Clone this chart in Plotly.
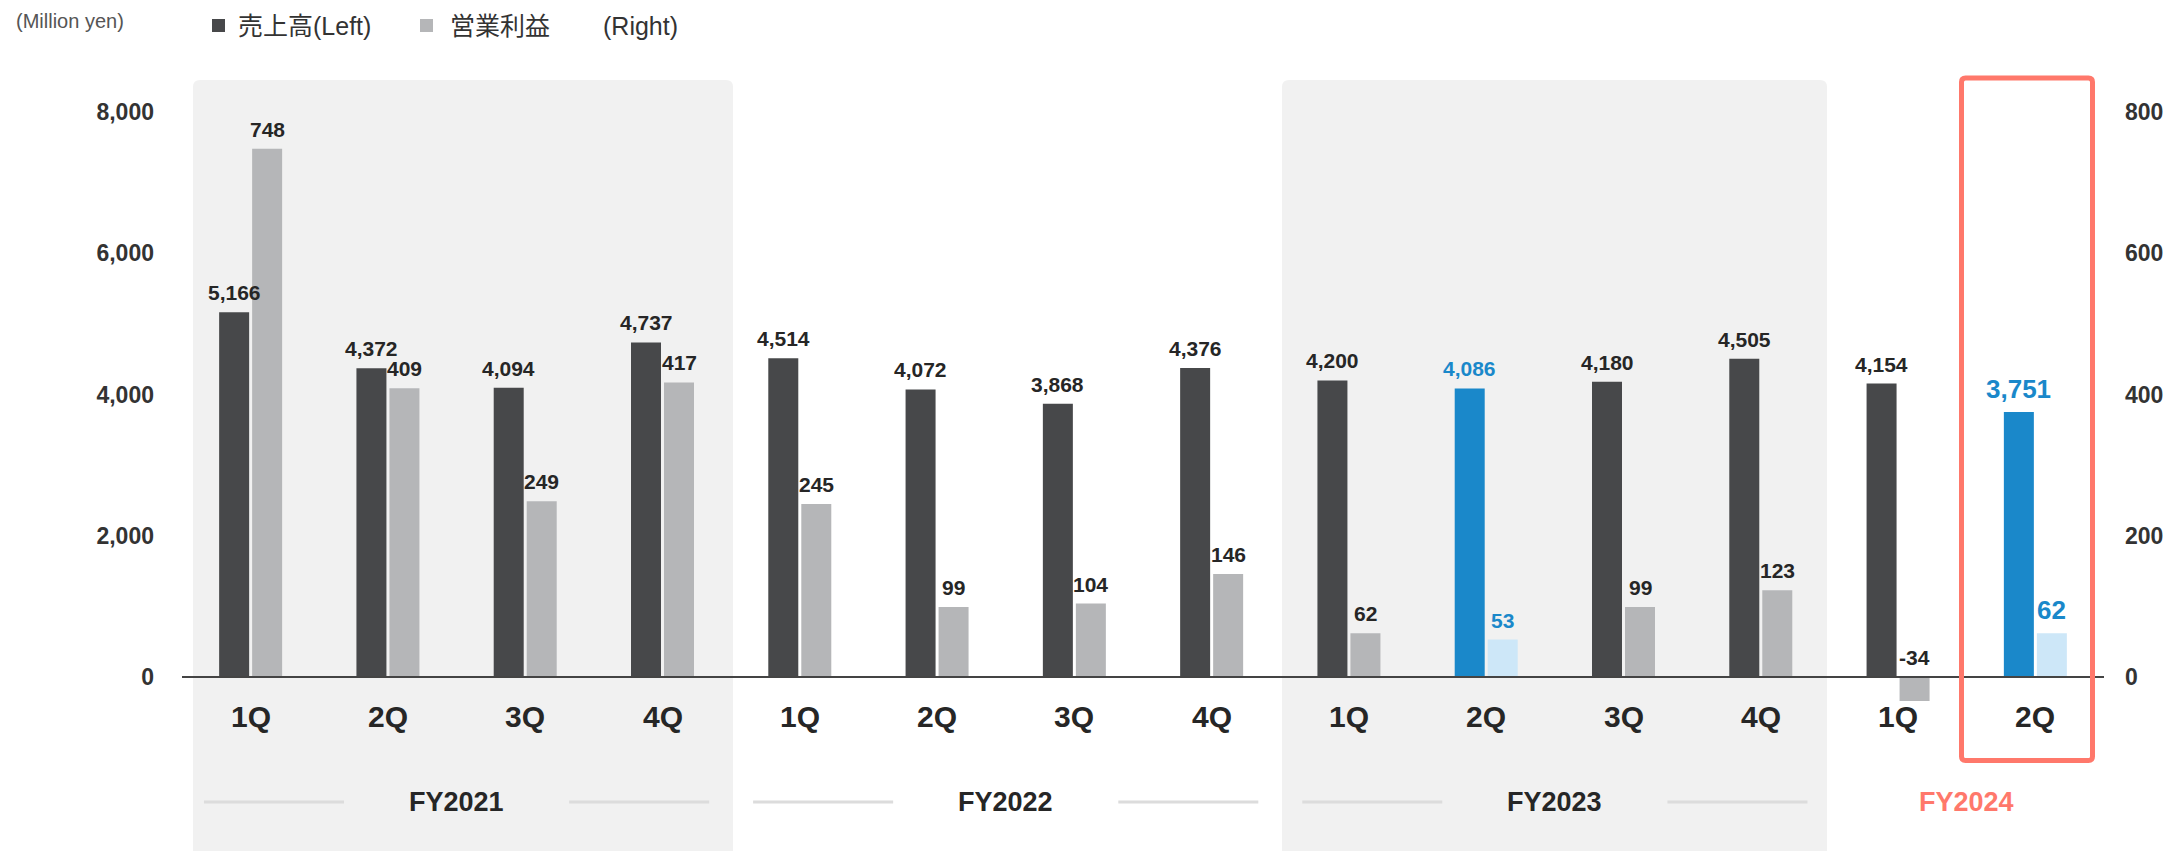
import plotly.graph_objects as go

# ---- data -------------------------------------------------------------
quarters = ["1Q", "2Q", "3Q", "4Q", "1Q", "2Q", "3Q", "4Q",
            "1Q", "2Q", "3Q", "4Q", "1Q", "2Q"]
sales = [5166, 4372, 4094, 4737, 4514, 4072, 3868, 4376,
         4200, 4086, 4180, 4505, 4154, 3751]            # 売上高 (left axis)
op_income = [748, 409, 249, 417, 245, 99, 104, 146,
             62, 53, 99, 123, -34, 62]                   # 営業利益 (right axis)
fiscal_years = ["FY2021", "FY2022", "FY2023", "FY2024"]
fy_first_idx = [0, 4, 8, 12]
fy_last_idx = [3, 7, 11, 13]
highlight_idx = [9, 13]                                  # 2Q bars in blue
big_label_idx = [13]                                     # latest quarter
left_ticks = [0, 2000, 4000, 6000, 8000]
right_ticks = [0, 200, 400, 600, 800]

# ---- style ------------------------------------------------------------
W, H = 2182, 851
DARK = "#47484A"
GREY = "#B5B6B8"
BLUE = "#1A88CA"
LIGHT_BLUE = "#CDE7F8"
PANEL = "#F1F1F1"
SALMON = "#FF786B"
TXT = "#262626"
FONT = "Liberation Sans, Arial, sans-serif"

# pixel geometry of the plotting frame
X_LEFT_PX, X_RIGHT_PX = 182, 2104
ZERO_PX, TOP_TICK_PX = 677, 112
px_per_unit_y = (ZERO_PX - TOP_TICK_PX) / left_ticks[-1]
y_top = ZERO_PX / px_per_unit_y
y_bot = -(H - ZERO_PX) / px_per_unit_y
ratio = right_ticks[-1] / left_ticks[-1]
px_per_cat = (X_RIGHT_PX - X_LEFT_PX) / len(quarters)


def ypx(py):
    """vertical pixel -> left-axis value"""
    return (ZERO_PX - py) / px_per_unit_y


def xpx(px):
    """horizontal pixel -> category coordinate"""
    return (px - X_LEFT_PX) / px_per_cat - 0.5


BAR_W = 30 / px_per_cat
GAP = 3 / px_per_cat
OFF_SALES = -GAP / 2 - BAR_W
OFF_OP = GAP / 2

x = list(range(len(quarters)))
sales_colors = [BLUE if i in highlight_idx else DARK for i in x]
op_colors = [LIGHT_BLUE if i in highlight_idx else GREY for i in x]

fig = go.Figure()
fig.add_trace(go.Bar(
    x=x, y=sales, width=BAR_W, offset=OFF_SALES, yaxis="y",
    marker=dict(color=sales_colors, line=dict(width=0)),
    name="売上高", hoverinfo="y"))
fig.add_trace(go.Bar(
    x=x, y=op_income, width=BAR_W, offset=OFF_OP, yaxis="y2",
    marker=dict(color=op_colors, line=dict(width=0)),
    name="営業利益", hoverinfo="y"))

shapes = []
annotations = []


def rounded_rect_path(x0, x1, y0, y1, r_px, all_corners=False):
    rx = r_px / px_per_cat
    ry = r_px / px_per_unit_y
    p = (f"M {x0},{y0 + (ry if all_corners else 0)} "
         f"L {x0},{y1 - ry} Q {x0},{y1} {x0 + rx},{y1} "
         f"L {x1 - rx},{y1} Q {x1},{y1} {x1},{y1 - ry} ")
    if all_corners:
        p += (f"L {x1},{y0 + ry} Q {x1},{y0} {x1 - rx},{y0} "
              f"L {x0 + rx},{y0} Q {x0},{y0} {x0},{y0 + ry} Z")
    else:
        p += f"L {x1},{y0} Z"
    return p


# shaded year panels (FY2021, FY2023)
for px0, px1 in [(193, 733), (1282, 1827)]:
    shapes.append(dict(
        type="path", xref="x", yref="y", layer="below",
        path=rounded_rect_path(xpx(px0), xpx(px1), y_bot - 200, ypx(80), 7),
        fillcolor=PANEL, line=dict(width=0)))

# zero baseline
shapes.append(dict(type="line", xref="x", yref="y", layer="above",
                   x0=-0.5, x1=len(quarters) - 0.5, y0=0, y1=0,
                   line=dict(color="#444444", width=2)))

# frame around the latest quarter
shapes.append(dict(
    type="path", xref="x", yref="y", layer="above",
    path=rounded_rect_path(xpx(1961.5), xpx(2092.5), ypx(760.5), ypx(78), 4,
                           all_corners=True),
    fillcolor="rgba(0,0,0,0)", line=dict(color=SALMON, width=5)))

# value labels
for i in x:
    big = i in big_label_idx
    col = BLUE if i in highlight_idx else TXT
    size = 26 if big else 21
    annotations.append(dict(
        x=i + OFF_SALES + BAR_W / 2, y=sales[i], xref="x", yref="y",
        text=f"<b>{sales[i]:,}</b>", showarrow=False, yanchor="bottom",
        yshift=6, font=dict(family=FONT, size=size, color=col)))
    v = op_income[i]
    annotations.append(dict(
        x=i + OFF_OP + BAR_W / 2, y=max(v, 0), xref="x", yref="y2",
        text=f"<b>{v:,}</b>", showarrow=False, yanchor="bottom",
        yshift=6, font=dict(family=FONT, size=size, color=col)))

# quarter labels
for i, q in enumerate(quarters):
    annotations.append(dict(
        x=i, y=ypx(716), xref="x", yref="y", text=f"<b>{q}</b>",
        showarrow=False, yanchor="middle",
        font=dict(family=FONT, size=30, color=TXT)))

# fiscal-year labels with side rules
for fy, a, b in zip(fiscal_years, fy_first_idx, fy_last_idx):
    c = (a + b) / 2
    is_latest = fy == fiscal_years[-1]
    annotations.append(dict(
        x=c, y=ypx(802), xref="x", yref="y", text=f"<b>{fy}</b>",
        showarrow=False, yanchor="middle",
        font=dict(family=FONT, size=27, color=SALMON if is_latest else TXT)))
    if not is_latest:
        for s in (-1, 1):
            shapes.append(dict(
                type="line", xref="x", yref="y", layer="above",
                x0=c + s * 0.82, x1=c + s * 1.84, y0=ypx(802), y1=ypx(802),
                line=dict(color="#DCDCDC", width=3)))

# header: unit and legend
annotations.append(dict(
    x=14 / W, y=1 - 21 / H, xref="paper", yref="paper", text="(Million yen)",
    showarrow=False, xanchor="left", yanchor="middle",
    font=dict(family=FONT, size=20, color="#555555")))
for sq_x, color in [(212, DARK), (420, GREY)]:
    shapes.append(dict(type="rect", xref="paper", yref="paper",
                       x0=sq_x / W, x1=(sq_x + 13) / W,
                       y0=1 - 32 / H, y1=1 - 19 / H,
                       fillcolor=color, line=dict(width=0)))
for tx, label in [(236, "売上高(Left)"), (448, "営業利益"), (601, "(Right)")]:
    annotations.append(dict(
        x=tx / W, y=1 - 26 / H, xref="paper", yref="paper", text=label,
        showarrow=False, xanchor="left", yanchor="middle",
        font=dict(family="Liberation Sans, Noto Sans CJK JP, sans-serif",
                  size=25, color="#333333")))

fig.update_layout(
    template="none",
    width=W, height=H,
    margin=dict(l=0, r=0, t=0, b=0),
    paper_bgcolor="white", plot_bgcolor="rgba(0,0,0,0)",
    barmode="overlay", showlegend=False,
    shapes=shapes, annotations=annotations,
    xaxis=dict(domain=[X_LEFT_PX / W, X_RIGHT_PX / W],
               range=[-0.5, len(quarters) - 0.5],
               showgrid=False, zeroline=False, showline=False,
               showticklabels=False, ticks="", automargin=False,
               fixedrange=True),
    yaxis=dict(domain=[0, 1], range=[y_bot, y_top],
               tickvals=left_ticks, ticktext=[f"{v:,}" for v in left_ticks],
               showgrid=False, zeroline=False, showline=False, ticks="",
               ticklabelstandoff=27, automargin=False,
               tickfont=dict(family=FONT, size=23, color="#333333",
                             weight="bold")),
    yaxis2=dict(overlaying="y", side="right", anchor="x",
                range=[y_bot * ratio, y_top * ratio],
                tickvals=right_ticks, ticktext=[f"{v:,}" for v in right_ticks],
                showgrid=False, zeroline=False, showline=False, ticks="",
                ticklabelstandoff=20, automargin=False,
                tickfont=dict(family=FONT, size=23, color="#333333",
                              weight="bold")),
)

fig.write_html("out.html")
